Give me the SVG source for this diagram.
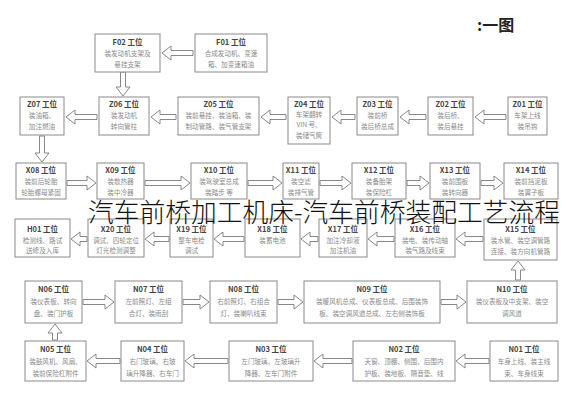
<svg xmlns="http://www.w3.org/2000/svg" width="565" height="400" viewBox="0 0 565 400">
<style>
.b{fill:#fff;stroke:#8a8a8a;stroke-width:1}
.a{fill:#fff;stroke:#7a7a7a;stroke-width:0.9;stroke-linejoin:miter}
text{font-family:"Noto Sans CJK SC","Noto Sans",sans-serif;text-anchor:middle}
.h{font-size:7.5px;font-weight:bold;fill:#444}
.t{font-size:6.6px;fill:#8a8a8a}
.ttl{font-size:26px;font-weight:300;fill:#111;text-anchor:start}
.hd{font-size:16px;font-weight:bold;fill:#222;text-anchor:start}
</style>
<rect width="565" height="400" fill="#fff"/>
<text class="hd" x="477" y="31">:一图</text>

<g id="connectors">
<path class="a" d="M162,53 L171,46 L171,50.5 L193,50.5 L193,55.5 L171,55.5 L171,60 Z"/>
<path class="a" d="M123,96 L116,87 L120.5,87 L120.5,72 L125.5,72 L125.5,87 L130,87 Z"/>
<path class="a" d="M66,117 L75,110 L75,114.5 L97,114.5 L97,119.5 L75,119.5 L75,124 Z"/>
<path class="a" d="M151,117 L160,110 L160,114.5 L176,114.5 L176,119.5 L160,119.5 L160,124 Z"/>
<path class="a" d="M261,117 L270,110 L270,114.5 L286,114.5 L286,119.5 L270,119.5 L270,124 Z"/>
<path class="a" d="M332,117 L341,110 L341,114.5 L355,114.5 L355,119.5 L341,119.5 L341,124 Z"/>
<path class="a" d="M400,117 L409,110 L409,114.5 L426,114.5 L426,119.5 L409,119.5 L409,124 Z"/>
<path class="a" d="M475,117 L484,110 L484,114.5 L506,114.5 L506,119.5 L484,119.5 L484,124 Z"/>
<path class="a" d="M42,162 L35,153 L39.5,153 L39.5,136 L44.5,136 L44.5,153 L49,153 Z"/>
<path class="a" d="M96,183 L87,176 L87,180.5 L67,180.5 L67,185.5 L87,185.5 L87,190 Z"/>
<path class="a" d="M190,183 L181,176 L181,180.5 L145,180.5 L145,185.5 L181,185.5 L181,190 Z"/>
<path class="a" d="M282,183 L273,176 L273,180.5 L248,180.5 L248,185.5 L273,185.5 L273,190 Z"/>
<path class="a" d="M351,183 L342,176 L342,180.5 L320,180.5 L320,185.5 L342,185.5 L342,190 Z"/>
<path class="a" d="M429,183 L420,176 L420,180.5 L407,180.5 L407,185.5 L420,185.5 L420,190 Z"/>
<path class="a" d="M503,183 L494,176 L494,180.5 L481,180.5 L481,185.5 L494,185.5 L494,190 Z"/>
<path class="a" d="M456,239 L465,232 L465,236.5 L483,236.5 L483,241.5 L465,241.5 L465,246 Z"/>
<path class="a" d="M368,239 L377,232 L377,236.5 L394,236.5 L394,241.5 L377,241.5 L377,246 Z"/>
<path class="a" d="M301,239 L310,232 L310,236.5 L318,236.5 L318,241.5 L310,241.5 L310,246 Z"/>
<path class="a" d="M214,239 L223,232 L223,236.5 L244,236.5 L244,241.5 L223,241.5 L223,246 Z"/>
<path class="a" d="M145,239 L154,232 L154,236.5 L169,236.5 L169,241.5 L154,241.5 L154,246 Z"/>
<path class="a" d="M71,239 L80,232 L80,236.5 L87,236.5 L87,241.5 L80,241.5 L80,246 Z"/>
<path class="a" d="M518,261 L511,270 L515.5,270 L515.5,280 L520.5,280 L520.5,270 L525,270 Z"/>
<path class="a" d="M114,302 L105,295 L105,299.5 L83,299.5 L83,304.5 L105,304.5 L105,309 Z"/>
<path class="a" d="M209,302 L200,295 L200,299.5 L183,299.5 L183,304.5 L200,304.5 L200,309 Z"/>
<path class="a" d="M303,302 L294,295 L294,299.5 L278,299.5 L278,304.5 L294,304.5 L294,309 Z"/>
<path class="a" d="M466,302 L457,295 L457,299.5 L441,299.5 L441,304.5 L457,304.5 L457,309 Z"/>
<path class="a" d="M456,361 L465,354 L465,358.5 L489,358.5 L489,363.5 L465,363.5 L465,368 Z"/>
<path class="a" d="M314,361 L323,354 L323,358.5 L352,358.5 L352,363.5 L323,363.5 L323,368 Z"/>
<path class="a" d="M185,361 L194,354 L194,358.5 L228,358.5 L228,363.5 L194,363.5 L194,368 Z"/>
<path class="a" d="M87,361 L96,354 L96,358.5 L120,358.5 L120,363.5 L96,363.5 L96,368 Z"/>
<path class="a" d="M55,324 L48,333 L52.5,333 L52.5,340 L57.5,340 L57.5,333 L62,333 Z"/>
</g>

<g id="F01"><rect class="b" x="195" y="34" width="72" height="38"/><text class="h" x="231" y="45">F01 工位</text><text class="t" x="231" y="56">合成发动机、变速</text><text class="t" x="231" y="67">箱、加变速箱油</text></g>
<g id="F02"><rect class="b" x="95" y="34" width="65" height="38"/><text class="h" x="127.5" y="45">F02 工位</text><text class="t" x="127.5" y="56">装发动机支架及</text><text class="t" x="127.5" y="67">悬挂支架</text></g>

<g id="Z07"><rect class="b" x="20" y="97" width="44" height="38"/><text class="h" x="42" y="107">Z07 工位</text><text class="t" x="42" y="118">装油箱、</text><text class="t" x="42" y="129">加注燃油</text></g>
<g id="Z06"><rect class="b" x="99" y="97" width="50" height="38"/><text class="h" x="124" y="107">Z06 工位</text><text class="t" x="124" y="118">装发动机</text><text class="t" x="124" y="129">转向管柱</text></g>
<g id="Z05"><rect class="b" x="178" y="97" width="81" height="38"/><text class="h" x="218.5" y="107">Z05 工位</text><text class="t" x="218.5" y="118">装前悬挂、装油箱、装</text><text class="t" x="218.5" y="129">制动管路、装气管支架</text></g>
<g id="Z04"><rect class="b" x="288" y="97" width="42" height="47"/><text class="h" x="309" y="107">Z04 工位</text><text class="t" x="309" y="117">车架翻转</text><text class="t" x="309" y="127">VIN 号、</text><text class="t" x="309" y="138">装储气筒</text></g>
<g id="Z03"><rect class="b" x="357" y="97" width="41" height="38"/><text class="h" x="377.5" y="107">Z03 工位</text><text class="t" x="377.5" y="118">装前桥</text><text class="t" x="377.5" y="129">装后桥总成</text></g>
<g id="Z02"><rect class="b" x="428" y="97" width="45" height="38"/><text class="h" x="450.5" y="107">Z02 工位</text><text class="t" x="450.5" y="118">装后桥、</text><text class="t" x="450.5" y="129">装后悬挂</text></g>
<g id="Z01"><rect class="b" x="508" y="97" width="39" height="38"/><text class="h" x="527.5" y="107">Z01 工位</text><text class="t" x="527.5" y="118">车架上线</text><text class="t" x="527.5" y="129">装吊钩</text></g>

<g id="X08"><rect class="b" x="16" y="163" width="50" height="36"/><text class="h" x="41" y="173">X08 工位</text><text class="t" x="41" y="184">装前后轮胎</text><text class="t" x="41" y="195">轮胎螺母紧固</text></g>
<g id="X09"><rect class="b" x="97" y="163" width="47" height="36"/><text class="h" x="120.5" y="173">X09 工位</text><text class="t" x="120.5" y="184">装散热器</text><text class="t" x="120.5" y="195">装中冷器</text></g>
<g id="X10"><rect class="b" x="191" y="163" width="56" height="36"/><text class="h" x="219" y="173">X10 工位</text><text class="t" x="219" y="184">装驾驶室总成</text><text class="t" x="219" y="195">装踏步 等</text></g>
<g id="X11"><rect class="b" x="283" y="163" width="36" height="36"/><text class="h" x="301" y="173">X11 工位</text><text class="t" x="301" y="184">装空滤</text><text class="t" x="301" y="195">装排气管</text></g>
<g id="X12"><rect class="b" x="352" y="163" width="54" height="36"/><text class="h" x="379" y="173">X12 工位</text><text class="t" x="379" y="184">装备胎架</text><text class="t" x="379" y="195">装保险杠</text></g>
<g id="X13"><rect class="b" x="430" y="163" width="50" height="36"/><text class="h" x="455" y="173">X13 工位</text><text class="t" x="455" y="184">装前围板</text><text class="t" x="455" y="195">装转向器</text></g>
<g id="X14"><rect class="b" x="504" y="163" width="54" height="36"/><text class="h" x="531" y="173">X14 工位</text><text class="t" x="531" y="184">装前挡泥板</text><text class="t" x="531" y="195">装翼子板</text></g>

<g id="X15"><rect class="b" x="484" y="219" width="73" height="41"/><text class="h" x="520.5" y="232">X15 工位</text><text class="t" x="520.5" y="243">装水管、装空调管路</text><text class="t" x="520.5" y="254">连接、装方向机管路</text></g>
<g id="X16"><rect class="b" x="395" y="219" width="60" height="38"/><text class="h" x="425" y="232">X16 工位</text><text class="t" x="425" y="243">装电、装传动轴</text><text class="t" x="425" y="253">装气路及线束</text></g>
<g id="X17"><rect class="b" x="319" y="219" width="48" height="38"/><text class="h" x="343" y="232">X17 工位</text><text class="t" x="343" y="243">加注冷却液</text><text class="t" x="343" y="253">加注机油</text></g>
<g id="X18"><rect class="b" x="245" y="219" width="55" height="38"/><text class="h" x="272.5" y="232">X18 工位</text><text class="t" x="272.5" y="243">装蓄电池</text></g>
<g id="X19"><rect class="b" x="170" y="219" width="43" height="38"/><text class="h" x="191.5" y="232">X19 工位</text><text class="t" x="191.5" y="243">整车电检</text><text class="t" x="191.5" y="253">调试</text></g>
<g id="X20"><rect class="b" x="88" y="219" width="56" height="38"/><text class="h" x="116" y="232">X20 工位</text><text class="t" x="116" y="243">调试、四轮定位</text><text class="t" x="116" y="253">灯光检测调整</text></g>
<g id="H01"><rect class="b" x="15" y="219" width="55" height="38"/><text class="h" x="42.5" y="232">H01 工位</text><text class="t" x="42.5" y="243">检测线、路试</text><text class="t" x="42.5" y="253">送修及入库</text></g>

<g id="N06"><rect class="b" x="25" y="281" width="57" height="42"/><text class="h" x="53.5" y="292">N06 工位</text><text class="t" x="53.5" y="304">装仪表板、转向</text><text class="t" x="53.5" y="316">盘、装门护板</text></g>
<g id="N07"><rect class="b" x="115" y="281" width="67" height="42"/><text class="h" x="148.5" y="292">N07 工位</text><text class="t" x="148.5" y="304">左前照灯、左组</text><text class="t" x="148.5" y="316">合灯、装雨刮</text></g>
<g id="N08"><rect class="b" x="210" y="281" width="67" height="42"/><text class="h" x="243.5" y="292">N08 工位</text><text class="t" x="243.5" y="304">右前照灯、右组合</text><text class="t" x="243.5" y="316">灯、装喇叭线束</text></g>
<g id="N09"><rect class="b" x="304" y="281" width="136" height="42"/><text class="h" x="372" y="292">N09 工位</text><text class="t" x="372" y="304">装暖风机总成、仪表板总成、后围装饰</text><text class="t" x="372" y="316">板、装空调风道总成、左右侧装饰板</text></g>
<g id="N10"><rect class="b" x="467" y="281" width="90" height="42"/><text class="h" x="512" y="292">N10 工位</text><text class="t" x="512" y="304">装仪表板及中支架、装空</text><text class="t" x="512" y="316">调风道</text></g>

<g id="N05"><rect class="b" x="25" y="341" width="61" height="40"/><text class="h" x="55.5" y="352">N05 工位</text><text class="t" x="55.5" y="364">装鼓风机、风扇、</text><text class="t" x="55.5" y="376">装前保险杠附件</text></g>
<g id="N04"><rect class="b" x="121" y="341" width="63" height="40"/><text class="h" x="152.5" y="352">N04 工位</text><text class="t" x="152.5" y="364">右门玻璃、右玻</text><text class="t" x="152.5" y="376">璃升降器、右车门</text></g>
<g id="N03"><rect class="b" x="229" y="341" width="84" height="40"/><text class="h" x="271" y="352">N03 工位</text><text class="t" x="271" y="364">左门玻璃、左玻璃升</text><text class="t" x="271" y="376">降器、左车门附件</text></g>
<g id="N02"><rect class="b" x="353" y="341" width="102" height="40"/><text class="h" x="404" y="352">N02 工位</text><text class="t" x="404" y="364">天窗、顶棚、侧围、后围内</text><text class="t" x="404" y="376">护板、装地板、隔音垫、线</text></g>
<g id="N01"><rect class="b" x="490" y="341" width="68" height="40"/><text class="h" x="524" y="352">N01 工位</text><text class="t" x="524" y="364">车身上线、装主线</text><text class="t" x="524" y="376">束、车身线束</text></g>

<text class="ttl" x="88" y="222" textLength="472" lengthAdjust="spacingAndGlyphs">汽车前桥加工机床-汽车前桥装配工艺流程</text>
</svg>
